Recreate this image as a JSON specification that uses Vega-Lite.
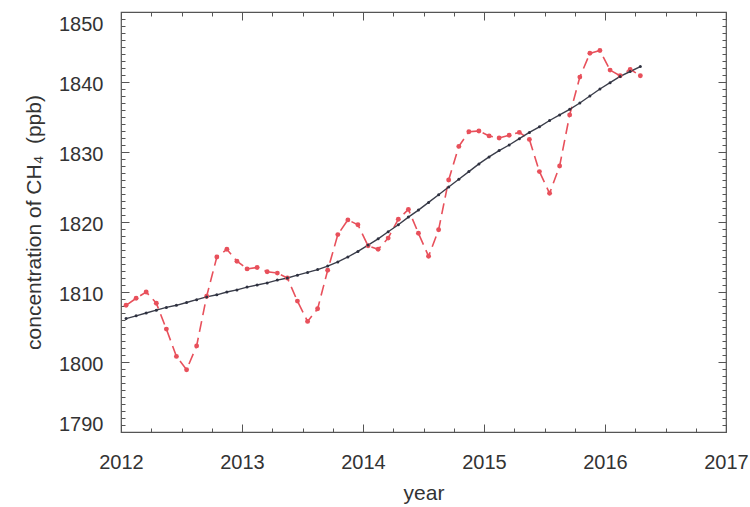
{
  "$schema": "https://vega.github.io/schema/vega-lite/v6.json",
  "width": 605,
  "height": 420,
  "autosize": {"type": "none"},
  "padding": {"left": 121, "top": 12, "right": 24, "bottom": 75},
  "background": "white",
  "config": {
    "view": {"stroke": "#555", "strokeWidth": 1.2},
    "font": "Liberation Sans",
    "axis": {"grid": false, "domain": false, "tickColor": "#555", "tickWidth": 1, "labelColor": "#333", "titleColor": "#333", "labelFontSize": 20, "titleFontSize": 21, "titleFontWeight": "normal", "labelFont": "Liberation Sans", "titleFont": "Liberation Sans"}
  },
  "data": {"values": [
    {"t": 2012.042, "obs": 1808.1, "trend": 1806.2},
    {"t": 2012.125, "obs": 1809.1, "trend": 1806.6},
    {"t": 2012.208, "obs": 1810.0, "trend": 1807.0},
    {"t": 2012.292, "obs": 1808.4, "trend": 1807.4},
    {"t": 2012.375, "obs": 1804.7, "trend": 1807.8},
    {"t": 2012.458, "obs": 1800.8, "trend": 1808.1},
    {"t": 2012.542, "obs": 1798.9, "trend": 1808.5},
    {"t": 2012.625, "obs": 1802.3, "trend": 1808.9},
    {"t": 2012.708, "obs": 1809.4, "trend": 1809.3},
    {"t": 2012.792, "obs": 1815.0, "trend": 1809.6},
    {"t": 2012.875, "obs": 1816.1, "trend": 1810.0},
    {"t": 2012.958, "obs": 1814.4, "trend": 1810.3},
    {"t": 2013.042, "obs": 1813.3, "trend": 1810.7},
    {"t": 2013.125, "obs": 1813.5, "trend": 1811.0},
    {"t": 2013.208, "obs": 1812.9, "trend": 1811.3},
    {"t": 2013.292, "obs": 1812.7, "trend": 1811.7},
    {"t": 2013.375, "obs": 1812.0, "trend": 1812.0},
    {"t": 2013.458, "obs": 1808.7, "trend": 1812.4},
    {"t": 2013.542, "obs": 1805.8, "trend": 1812.8},
    {"t": 2013.625, "obs": 1807.6, "trend": 1813.2},
    {"t": 2013.708, "obs": 1813.1, "trend": 1813.7},
    {"t": 2013.792, "obs": 1818.2, "trend": 1814.3},
    {"t": 2013.875, "obs": 1820.3, "trend": 1815.0},
    {"t": 2013.958, "obs": 1819.6, "trend": 1815.8},
    {"t": 2014.042, "obs": 1816.6, "trend": 1816.7},
    {"t": 2014.125, "obs": 1816.1, "trend": 1817.6},
    {"t": 2014.208, "obs": 1817.7, "trend": 1818.6},
    {"t": 2014.292, "obs": 1820.4, "trend": 1819.6},
    {"t": 2014.375, "obs": 1821.8, "trend": 1820.7},
    {"t": 2014.458, "obs": 1818.4, "trend": 1821.7},
    {"t": 2014.542, "obs": 1815.1, "trend": 1822.8},
    {"t": 2014.625, "obs": 1818.9, "trend": 1823.9},
    {"t": 2014.708, "obs": 1826.0, "trend": 1825.0},
    {"t": 2014.792, "obs": 1830.8, "trend": 1826.1},
    {"t": 2014.875, "obs": 1832.9, "trend": 1827.2},
    {"t": 2014.958, "obs": 1833.0, "trend": 1828.3},
    {"t": 2015.042, "obs": 1832.3, "trend": 1829.3},
    {"t": 2015.125, "obs": 1832.0, "trend": 1830.2},
    {"t": 2015.208, "obs": 1832.4, "trend": 1831.0},
    {"t": 2015.292, "obs": 1832.8, "trend": 1831.9},
    {"t": 2015.375, "obs": 1831.8, "trend": 1832.8},
    {"t": 2015.458, "obs": 1827.2, "trend": 1833.6},
    {"t": 2015.542, "obs": 1824.1, "trend": 1834.5},
    {"t": 2015.625, "obs": 1828.0, "trend": 1835.3},
    {"t": 2015.708, "obs": 1835.3, "trend": 1836.1},
    {"t": 2015.792, "obs": 1840.7, "trend": 1837.0},
    {"t": 2015.875, "obs": 1844.1, "trend": 1838.0},
    {"t": 2015.958, "obs": 1844.5, "trend": 1839.0},
    {"t": 2016.042, "obs": 1841.7, "trend": 1839.9},
    {"t": 2016.125, "obs": 1840.9, "trend": 1840.8},
    {"t": 2016.208, "obs": 1841.8, "trend": 1841.5},
    {"t": 2016.292, "obs": 1840.9, "trend": 1842.2}
  ]},
  "resolve": {"axis": {"x": "independent", "y": "independent"}},
  "layer": [
    {
      "mark": {"type": "line", "color": "#e8505b", "strokeWidth": 1.6, "strokeDash": [11, 6]},
      "encoding": {
        "x": {"field": "t", "type": "quantitative", "scale": {"domain": [2012, 2017], "nice": false, "zero": false},
              "axis": {"orient": "bottom", "values": [2012, 2013, 2014, 2015, 2016, 2017], "format": "d", "tickSize": -8, "labelPadding": 28, "labelFlush": false, "title": "year", "titlePadding": 10}},
        "y": {"field": "obs", "type": "quantitative", "scale": {"domain": [1790, 1850], "nice": false, "zero": false},
              "axis": {"orient": "left", "values": [1790, 1800, 1810, 1820, 1830, 1840, 1850], "format": "d", "tickSize": -8, "labelPadding": 26, "labelOffset": 2, "labelFlush": true, "title": "concentration of CH₄\u00a0 (ppb)", "titlePadding": 14}}
      }
    },
    {
      "mark": {"type": "line", "color": "#3a3d4a", "strokeWidth": 1.4},
      "encoding": {
        "x": {"field": "t", "type": "quantitative", "axis": {"orient": "top", "values": [2012, 2013, 2014, 2015, 2016, 2017], "tickSize": -8, "labels": false, "title": null}},
        "y": {"field": "trend", "type": "quantitative", "axis": {"orient": "right", "values": [1790, 1800, 1810, 1820, 1830, 1840, 1850], "tickSize": -8, "labels": false, "title": null}}
      }
    },
    {
      "mark": {"type": "point", "filled": true, "color": "#e8505b", "size": 24, "opacity": 1},
      "encoding": {
        "x": {"field": "t", "type": "quantitative", "axis": {"orient": "bottom", "values": [2012.25, 2012.5, 2012.75, 2013.25, 2013.5, 2013.75, 2014.25, 2014.5, 2014.75, 2015.25, 2015.5, 2015.75, 2016.25, 2016.5, 2016.75], "tickSize": -4, "labels": false, "title": null}},
        "y": {"field": "obs", "type": "quantitative", "axis": {"orient": "left", "values": [1791, 1792, 1793, 1794, 1795, 1796, 1797, 1798, 1799, 1801, 1802, 1803, 1804, 1805, 1806, 1807, 1808, 1809, 1811, 1812, 1813, 1814, 1815, 1816, 1817, 1818, 1819, 1821, 1822, 1823, 1824, 1825, 1826, 1827, 1828, 1829, 1831, 1832, 1833, 1834, 1835, 1836, 1837, 1838, 1839, 1841, 1842, 1843, 1844, 1845, 1846, 1847, 1848, 1849], "tickSize": -4, "labels": false, "title": null}}
      }
    },
    {
      "mark": {"type": "point", "filled": true, "color": "#2e3140", "size": 9, "opacity": 1},
      "encoding": {
        "x": {"field": "t", "type": "quantitative", "axis": {"orient": "top", "values": [2012.25, 2012.5, 2012.75, 2013.25, 2013.5, 2013.75, 2014.25, 2014.5, 2014.75, 2015.25, 2015.5, 2015.75, 2016.25, 2016.5, 2016.75], "tickSize": -4, "labels": false, "title": null}},
        "y": {"field": "trend", "type": "quantitative", "axis": {"orient": "right", "values": [1791, 1792, 1793, 1794, 1795, 1796, 1797, 1798, 1799, 1801, 1802, 1803, 1804, 1805, 1806, 1807, 1808, 1809, 1811, 1812, 1813, 1814, 1815, 1816, 1817, 1818, 1819, 1821, 1822, 1823, 1824, 1825, 1826, 1827, 1828, 1829, 1831, 1832, 1833, 1834, 1835, 1836, 1837, 1838, 1839, 1841, 1842, 1843, 1844, 1845, 1846, 1847, 1848, 1849], "tickSize": -4, "labels": false, "title": null}}
      }
    }
  ]
}
